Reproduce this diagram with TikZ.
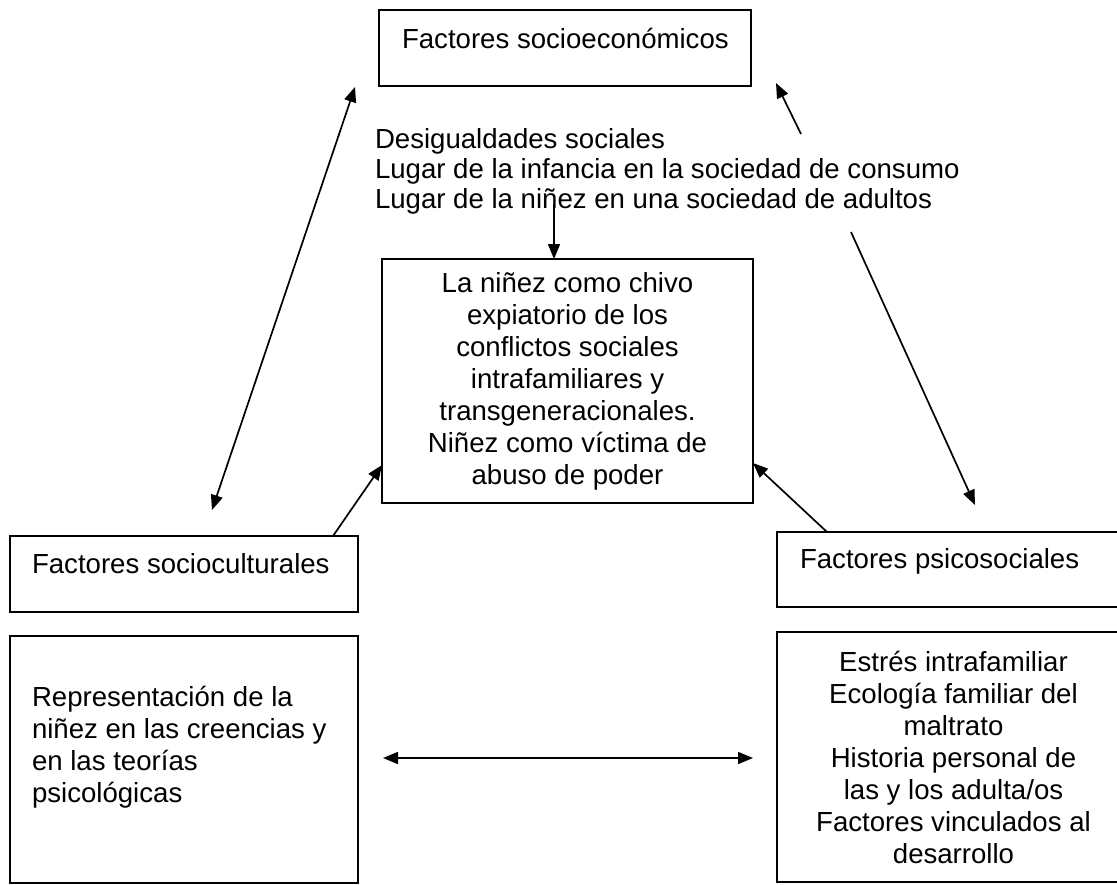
\documentclass[tikz,border=0pt]{standalone}
\usepackage{fontspec}
\setmainfont{Liberation Sans}
\usetikzlibrary{arrows.meta,calc}
\begin{document}
\begin{tikzpicture}[x=1pt,y=-1pt,
  box/.style={draw, line width=1.7pt, inner sep=0pt, outer sep=0pt},
  txt/.style={inner sep=0pt, outer sep=0pt, font=\fontsize{27.6}{32}\selectfont},
  arr/.style={line width=1.7pt, -{Triangle[length=15pt,width=12pt]}},
  dblarr/.style={line width=1.7pt, {Triangle[length=15pt,width=12pt]}-{Triangle[length=15pt,width=12pt]}}]
\useasboundingbox (0,0) rectangle (1117,884);
\clip (0,0) rectangle (1117,884);

% top box
\node[box, anchor=north west, minimum width=372pt, minimum height=76pt] (soceco) at (379,10) {};
\node[txt, anchor=base west] (socecoT) at (402,48) {Factores socioeconómicos};

% middle text (base anchor = last line)
\node[txt, font=\fontsize{27.6}{30}\selectfont, anchor=base west, align=left] (desig) at (375,208)
  {Desigualdades sociales\\Lugar de la infancia en la sociedad de consumo\\Lugar de la niñez en una sociedad de adultos};

% centre box
\node[box, txt, draw, line width=1.7pt, anchor=north west, minimum width=371pt, minimum height=244pt, align=center] (center) at (382,259)
  {La niñez como chivo\\expiatorio de los\\conflictos sociales\\intrafamiliares y\\transgeneracionales.\\Niñez como víctima de\\abuso de poder};

% left boxes
\node[box, anchor=north west, minimum width=348pt, minimum height=76pt] (soccult) at (10,536) {};
\node[txt, anchor=base west] (soccultT) at (32,573) {Factores socioculturales};
\node[box, anchor=north west, minimum width=348pt, minimum height=247pt] (repr) at (10,636) {};
\node[txt, anchor=base west, align=left] (reprT) at (32,802)
  {Representación de la\\niñez en las creencias y\\en las teorías\\psicológicas};

% right boxes
\node[box, anchor=north west, minimum width=360pt, minimum height=75pt] (psico) at (777,532) {};
\node[txt, anchor=base west] (psicoT) at (800,568) {Factores psicosociales};
\node[box, txt, draw, line width=1.7pt, anchor=north west, minimum width=353pt, minimum height=250pt, align=center] (estres) at (777,632)
  {Estrés intrafamiliar\\Ecología familiar del\\maltrato\\Historia personal de\\las y los adulta/os\\Factores vinculados al\\desarrollo};

% connectors
\coordinate (lt) at ($(soceco.south west)+(-24,1)$);
\coordinate (lb) at ($(soccult.north west)+(202,-26)$);
\draw[dblarr] (lb) -- (lt);

\coordinate (rtT) at ($(soceco.south east)+(50,48)$);
\coordinate (rtH) at ($(soceco.south east)+(25,-3)$);
\draw[arr] (rtT) -- (rtH);

\coordinate (rlT) at ($(center.north east)+(98,-27)$);
\coordinate (rlH) at ($(psico.north west)+(198,-27)$);
\draw[arr] (rlT) -- (rlH);

\coordinate (dn) at ($(center.north west)+(172,-55)$);
\draw[arr] (dn) -- (dn |- center.north);

\coordinate (lmT) at ($(soccult.north west)+(323,0)$);
\coordinate (lmH) at ($(center.north west)+(0,206)$);
\draw[arr] (lmT) -- (lmH);

\coordinate (rmT) at ($(psico.north west)+(50,0)$);
\coordinate (rmH) at ($(center.north east)+(0,204)$);
\draw[arr] (rmT) -- (rmH);

\coordinate (hl) at ($(repr.north east)+(25,122)$);
\coordinate (hr) at ($(hl -| estres.west)+(-24,0)$);
\draw[dblarr] (hl) -- (hr);
\end{tikzpicture}
\end{document}
